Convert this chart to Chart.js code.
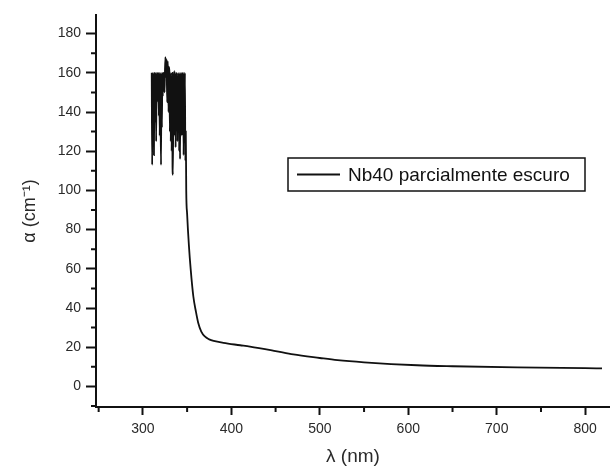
<!DOCTYPE html>
<html>
<head>
<meta charset="utf-8">
<script src="https://cdn.jsdelivr.net/npm/chart.js@4"></script>
<style>
  html, body { margin: 0; padding: 0; background: #fff; }
  #wrap { width: 610px; height: 466px; }
</style>
</head>
<body>
<div id="wrap"><canvas id="chart" width="610" height="466"></canvas></div>
<script>
// wavelength (nm) and absorption coefficient (cm-1)
const lambda = [
    310, 310.5, 311, 311.5, 312, 312.5, 313, 313.5, 314, 314.5,
    315, 315.5, 316, 316.5, 317, 317.5, 318, 318.5, 319, 319.5,
    320, 320.5, 321, 321.5, 322, 322.5, 323, 323.5, 324, 324.5,
    325, 325.5, 326, 326.5, 327, 327.5, 328, 328.5, 329, 329.5,
    330, 330.5, 331, 331.5, 332, 332.5, 333, 333.5, 334, 334.5,
    335, 335.5, 336, 336.5, 337, 337.5, 338, 338.5, 339, 339.5,
    340, 340.5, 341, 341.5, 342, 342.5, 343, 343.5, 344, 344.5,
    345, 345.5, 346, 346.5, 347, 347.5, 348, 348.5, 349, 350,
    352, 354, 357, 360, 362.5, 366, 370, 375, 380, 391,
    410, 421, 450, 470, 500, 520, 550, 610, 650, 723,
    800, 819
];
const alpha = [
    160, 113, 160, 130, 160, 118, 158, 160, 135, 160,
    125, 160, 145, 160, 150, 160, 138, 160, 128, 160,
    140, 113, 160, 132, 160, 148, 160, 155, 160, 150,
    162, 168, 158, 167, 160, 145, 166, 160, 140, 163,
    160, 130, 160, 125, 158, 120, 160, 112, 108, 160,
    135, 161, 128, 160, 122, 160, 140, 160, 125, 158,
    130, 160, 120, 160, 116, 160, 135, 160, 128, 160,
    140, 160, 118, 160, 125, 160, 115, 130, 100, 88,
    72, 60, 46, 38, 32.5, 28, 25.5, 24, 23.2, 22.2,
    21, 20.3, 18, 16.3, 14.5, 13.4, 12.3, 10.8, 10.3, 9.7,
    9.3, 9.2
];
const seriesName = 'Nb40 parcialmente escuro';

const xTicks = [300, 400, 500, 600, 700, 800];
const xMinor = [250, 350, 450, 550, 650, 750];
const yTicks = [0, 20, 40, 60, 80, 100, 120, 140, 160, 180];
const yMinor = [-10, 10, 30, 50, 70, 90, 110, 130, 150, 170];

const font = 'Liberation Sans, Arial, sans-serif';
const textColor = '#2a2a2a';

const minorTicks = {
    id: 'minorTicks',
    afterDraw(chart) {
        const ctx = chart.ctx;
        const x = chart.scales.x;
        const y = chart.scales.y;
        ctx.save();
        ctx.strokeStyle = '#111';
        ctx.lineWidth = 2;
        ctx.beginPath();
        xMinor.forEach(v => {
            const px = x.getPixelForValue(v);
            ctx.moveTo(px, x.top);
            ctx.lineTo(px, x.top + 5);
        });
        yMinor.forEach(v => {
            const py = y.getPixelForValue(v);
            ctx.moveTo(y.right, py);
            ctx.lineTo(y.right - 5, py);
        });
        ctx.stroke();
        ctx.restore();
    }
};

const boxLegend = {
    id: 'boxLegend',
    afterDraw(chart) {
        const ctx = chart.ctx;
        const left = 288, top = 158, w = 297, h = 33;
        ctx.save();
        ctx.fillStyle = '#fff';
        ctx.fillRect(left, top, w, h);
        ctx.strokeStyle = '#111';
        ctx.lineWidth = 1.5;
        ctx.strokeRect(left, top, w, h);
        ctx.lineWidth = 1.8;
        ctx.beginPath();
        ctx.moveTo(297, top + h / 2);
        ctx.lineTo(340, top + h / 2);
        ctx.stroke();
        ctx.fillStyle = '#111';
        ctx.font = '19px ' + font;
        ctx.textBaseline = 'middle';
        ctx.fillText(chart.data.datasets[0].label, 348, top + h / 2 + 1);
        ctx.restore();
    }
};

new Chart(document.getElementById('chart'), {
    type: 'line',
    data: {
        datasets: [{
            label: seriesName,
            data: lambda.map((v, i) => ({ x: v, y: alpha[i] })),
            borderColor: '#111',
            borderWidth: 1.8,
            pointRadius: 0,
            cubicInterpolationMode: 'monotone',
            fill: false
        }]
    },
    options: {
        responsive: false,
        animation: false,
        layout: { padding: { top: 15, right: 0, left: 0, bottom: 0 } },
        plugins: {
            legend: { display: false },
            tooltip: { enabled: false }
        },
        scales: {
            x: {
                type: 'linear',
                min: 247,
                max: 828,
                afterBuildTicks: s => { s.ticks = xTicks.map(v => ({ value: v })); },
                afterFit: s => { s.height = 59; },
                border: { color: '#111', width: 2 },
                grid: { drawOnChartArea: false, tickLength: 8, tickWidth: 2, tickColor: '#111' },
                ticks: { color: textColor, font: { family: font, size: 14 }, padding: 6, maxRotation: 0 },
                title: { display: true, text: 'λ (nm)', color: textColor, font: { family: font, size: 19, lineHeight: 1 }, padding: { top: 0, bottom: 0 } }
            },
            y: {
                type: 'linear',
                min: -10.5,
                max: 189.5,
                afterBuildTicks: s => { s.ticks = yTicks.map(v => ({ value: v })); },
                afterFit: s => { s.width = 96; },
                border: { color: '#111', width: 2 },
                grid: { drawOnChartArea: false, tickLength: 10, tickWidth: 2, tickColor: '#111' },
                ticks: { color: textColor, font: { family: font, size: 14 }, padding: 5 },
                title: { display: true, text: 'α (cm⁻¹)', color: textColor, font: { family: font, size: 18, lineHeight: 1 }, padding: { top: 21, bottom: 0 } }
            }
        }
    },
    plugins: [minorTicks, boxLegend]
});
</script>
</body>
</html>
